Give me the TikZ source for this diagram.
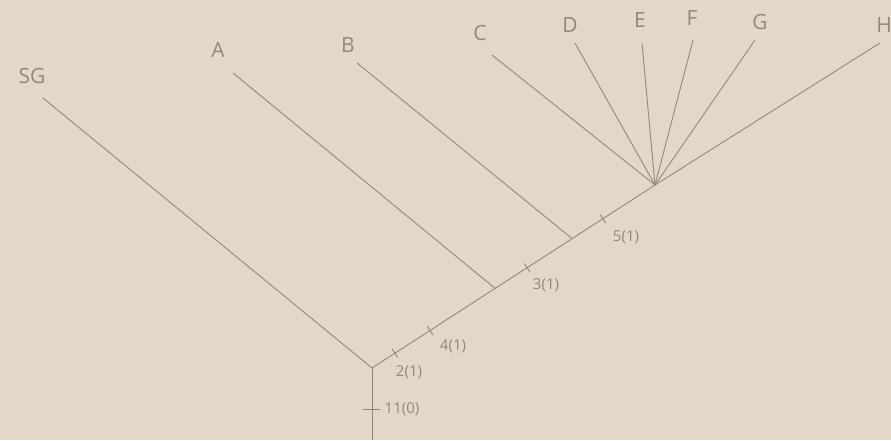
\documentclass[tikz,border=0pt]{standalone}
\usepackage{fontspec}
\setmainfont{Open Sans}
\usepackage{xcolor}
\usepackage{tikz}
\usetikzlibrary{calc}
\definecolor{paper}{RGB}{227,215,200}
\definecolor{pencil}{RGB}{150,136,116}

\begin{document}
\begin{tikzpicture}[x=1pt,y=-1pt,
  branch/.style={draw=pencil,line width=0.9pt},
  taxon/.style={inner sep=0pt,text=pencil,font=\fontsize{21}{21}\selectfont},
  change/.style={inner sep=0pt,text=pencil,font=\fontsize{15}{15}\selectfont}]
  \fill[paper] (0,0) rectangle (891,440);
  \useasboundingbox (0,0) rectangle (891,440);
  \coordinate (root) at (372,368);
  \coordinate (base) at (372,440);
  \coordinate (fan) at (655,185);
  \coordinate (jA) at ($(root)!0.435!(fan)$);
  \coordinate (jB) at ($(root)!0.707!(fan)$);
  \coordinate (t2) at ($(root)!0.081!(fan)$);
  \coordinate (t4) at ($(root)!0.205!(fan)$);
  \coordinate (t3) at ($(root)!0.548!(fan)$);
  \coordinate (t5) at ($(root)!0.816!(fan)$);
  \coordinate (t11) at (372,409);
  \coordinate (eSG) at (43,98);
  \coordinate (eA) at (233,73);
  \coordinate (eB) at (357,63);
  \coordinate (eC) at (492,55);
  \coordinate (eD) at (575,43);
  \coordinate (eE) at (642,43);
  \coordinate (eF) at (693,40);
  \coordinate (eG) at (755,40);
  \coordinate (eH) at (880,43);
  \node[taxon] (SG) at (32,76) {SG};
  \node[taxon] (A) at (218,50) {A};
  \node[taxon] (B) at (348,45) {B};
  \node[taxon] (C) at (480,33) {C};
  \node[taxon] (D) at (570,25) {D};
  \node[taxon] (E) at (640,20) {E};
  \node[taxon] (F) at (692,18) {F};
  \node[taxon] (G) at (760,22) {G};
  \node[taxon] (H) at (884,25) {H};
  \draw[branch] (base) -- (root);
  \draw[branch] (root) -- (fan) -- (eH);
  \draw[branch] (root) -- (eSG);
  \draw[branch] (jA) -- (eA);
  \draw[branch] (jB) -- (eB);
  \draw[branch] (fan) -- (eC);
  \draw[branch] (fan) -- (eD);
  \draw[branch] (fan) -- (eE);
  \draw[branch] (fan) -- (eF);
  \draw[branch] (fan) -- (eG);
  \draw[branch] ($(t11)+(-9,0)$) -- ($(t11)+(8,0)$);
  \draw[branch] ($(t2)!5pt!90:(fan)$) -- ($(t2)!5pt!-90:(fan)$);
  \draw[branch] ($(t4)!5pt!90:(fan)$) -- ($(t4)!5pt!-90:(fan)$);
  \draw[branch] ($(t3)!5pt!90:(fan)$) -- ($(t3)!5pt!-90:(fan)$);
  \draw[branch] ($(t5)!5pt!90:(fan)$) -- ($(t5)!5pt!-90:(fan)$);
  \node[change] (c11) at (402,409) {11(0)};
  \node[change] (c2) at (409,372) {2(1)};
  \node[change] (c4) at (453,346) {4(1)};
  \node[change] (c3) at (546,285) {3(1)};
  \node[change] (c5) at (626,237) {5(1)};
\end{tikzpicture}
\end{document}
